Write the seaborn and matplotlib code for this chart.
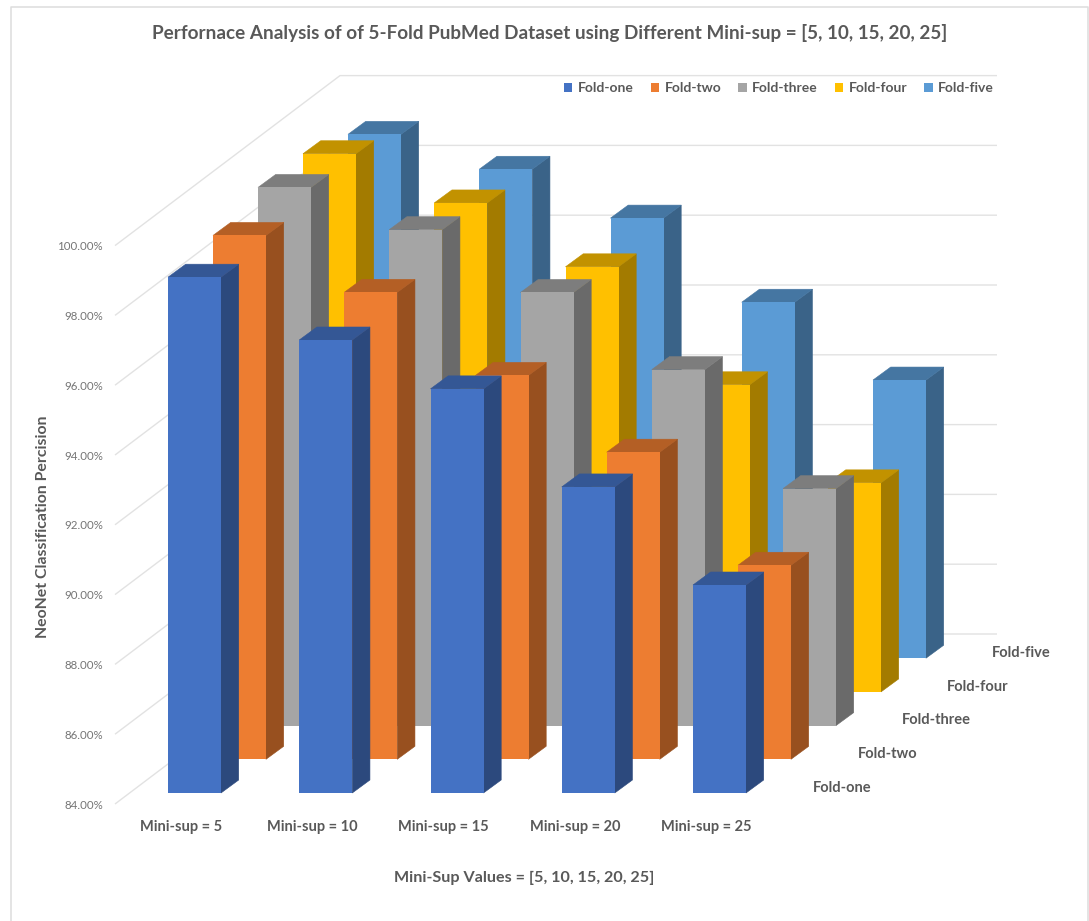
import matplotlib
matplotlib.use("Agg")
import matplotlib.pyplot as plt
import numpy as np
import pandas as pd
import seaborn as sns
from matplotlib.colors import to_rgb
from matplotlib.lines import Line2D
from matplotlib.patches import Patch, Polygon

# Classification precision (%) per fold at each minimum-support level
mini_sup_labels = ["Mini-sup = 5", "Mini-sup = 10", "Mini-sup = 15", "Mini-sup = 20", "Mini-sup = 25"]
fold_names = ["Fold-one", "Fold-two", "Fold-three", "Fold-four", "Fold-five"]
fold_one = [98.78, 96.98, 95.58, 92.77, 89.96]
fold_two = [99.01, 97.38, 95.00, 92.80, 89.56]
fold_three = [99.42, 98.21, 96.41, 94.20, 90.79]
fold_four = [99.42, 98.01, 96.18, 92.80, 89.99]
fold_five = [99.01, 98.01, 96.61, 94.20, 91.97]
fold_values = [fold_one, fold_two, fold_three, fold_four, fold_five]
fold_colors = ["#4472C4", "#ED7D31", "#A5A5A5", "#FFC000", "#5B9BD5"]
y_ticks = [84, 86, 88, 90, 92, 94, 96, 98, 100]

BASE = 84
W, H = 1089, 921
TEXT = "#595959"
WALL = "#e2e2e2"

# Plot box in pixels and the scale of each axis
LEFT, RIGHT, BOTTOM, TOP = 115, 997, 804, 76
PX_X = 131.25          # pixels per category
PX_Y = 34.9            # pixels per percentage point
FIRST_BAR_PX = 194.5   # centre of the frontmost first bar

# Oblique projection: the depth axis runs up and to the right
wall_dx, wall_dy = 225 / PX_X, 170 / PX_Y
fold_dx, fold_dy = 45 / PX_X, 33.7 / PX_Y
bar_dx, bar_dy = 17.7 / PX_X, 13 / PX_Y
floor_lift = 11 / PX_Y
bar_width = 53 / PX_X


def shade(color, factor):
    return tuple(c * factor for c in to_rgb(color))


sns.set_theme(style="white")
plt.rcParams["font.family"] = ["Lato", "DejaVu Sans"]

fig = plt.figure(figsize=(W / 100, H / 100), dpi=100, facecolor="white")
ax = fig.add_axes([LEFT / W, 1 - BOTTOM / H, (RIGHT - LEFT) / W, (BOTTOM - TOP) / H])
ax.patch.set_alpha(0)

# Back-most fold first so nearer bars overlap it
for f in reversed(range(len(fold_names))):
    frame = pd.DataFrame({
        "pos": np.arange(len(mini_sup_labels)) + f * fold_dx,
        "height": np.array(fold_values[f]) - BASE,
    })
    existing = len(ax.patches)
    sns.barplot(data=frame, x="pos", y="height", native_scale=True, orient="x",
                width=bar_width, color=fold_colors[f], saturation=1,
                errorbar=None, linewidth=0, ax=ax, legend=False)
    z = 5 + (len(fold_names) - f)
    bottom = BASE + floor_lift + f * fold_dy
    side_color = shade(fold_colors[f], 0.64)
    top_color = shade(fold_colors[f], 0.76)
    for bar in list(ax.patches[existing:]):
        bar.set_y(bottom)
        bar.set_zorder(z + 0.5)
        x0, x1 = bar.get_x(), bar.get_x() + bar.get_width()
        y1 = bottom + bar.get_height()
        ax.add_patch(Polygon(
            [(x1, bottom), (x1 + bar_dx, bottom + bar_dy), (x1 + bar_dx, y1 + bar_dy), (x1, y1)],
            closed=True, facecolor=side_color, edgecolor=side_color, linewidth=0.4, zorder=z))
        ax.add_patch(Polygon(
            [(x0, y1), (x0 + bar_dx, y1 + bar_dy), (x1 + bar_dx, y1 + bar_dy), (x1, y1)],
            closed=True, facecolor=top_color, edgecolor=top_color, linewidth=0.4, zorder=z))

x_min = (LEFT - FIRST_BAR_PX) / PX_X
x_max = (RIGHT - FIRST_BAR_PX) / PX_X
ax.set_xlim(x_min, x_max)
ax.set_ylim(BASE, BASE + (BOTTOM - TOP) / PX_Y)

# Side wall and back wall gridlines
for v in y_ticks:
    ax.plot([x_min, x_min + wall_dx, x_max], [v, v + wall_dy, v + wall_dy],
            color=WALL, linewidth=1.0, zorder=1, solid_capstyle="butt", clip_on=False)

sns.despine(ax=ax, left=True, bottom=True)
ax.set_yticks(y_ticks)
ax.set_yticklabels([f"{v:.2f}%" for v in y_ticks], fontsize=8.3, color="#757575")
ax.set_xticks(np.arange(len(mini_sup_labels)) - 13.5 / PX_X)
ax.set_xticklabels(mini_sup_labels, fontsize=10.5, fontweight="bold", color=TEXT)
ax.tick_params(axis="y", length=0, pad=8.6)
ax.tick_params(axis="x", length=0, pad=11.5)
ax.grid(False)

ax.set_xlabel("Mini-Sup Values = [5, 10, 15, 20, 25]", fontsize=11.6, fontweight="bold", color=TEXT)
ax.xaxis.set_label_coords((524 - LEFT) / (RIGHT - LEFT), (BOTTOM - 878) / (BOTTOM - TOP), ax.transAxes)
ax.xaxis.label.set_verticalalignment("center")
ax.set_ylabel("NeoNet Classification Percision", fontsize=11.4, fontweight="bold", color=TEXT)
ax.yaxis.set_label_coords((43 - LEFT) / (RIGHT - LEFT), (BOTTOM - 527) / (BOTTOM - TOP), ax.transAxes)
ax.yaxis.label.set_verticalalignment("center")
ax.set_title("Perfornace Analysis of of 5-Fold PubMed Dataset using Different Mini-sup = [5, 10, 15, 20, 25]",
             fontsize=13.6, fontweight="bold", color=TEXT, va="center", ha="center", pad=0,
             x=(550 - LEFT) / (RIGHT - LEFT), y=(BOTTOM - 33) / (BOTTOM - TOP))

# Depth-axis labels beside the last category
for f, name in enumerate(fold_names):
    ax.text((812.7 + 44.8 * f - FIRST_BAR_PX) / PX_X,
            BASE + (BOTTOM - (788 - 33.8 * f)) / PX_Y,
            name, fontsize=10.5, fontweight="bold", color=TEXT, ha="left", va="center")

handles = [Patch(facecolor=c, linewidth=0) for c in fold_colors]
ax.legend(handles, fold_names, ncol=5, frameon=False, loc="center left",
          bbox_to_anchor=((564 - LEFT) / (RIGHT - LEFT), (BOTTOM - 88.5) / (BOTTOM - TOP)),
          prop={"size": 10, "weight": "bold"}, labelcolor=TEXT,
          handlelength=0.6, handleheight=0.6, handletextpad=0.4,
          columnspacing=1.22, borderpad=0, borderaxespad=0)

# Chart area outline, open along the bottom edge
outline = [(10.5 / W, 0), (10.5 / W, 1 - 7.5 / H), (1088 / W, 1 - 7.5 / H), (1088 / W, 0)]
fig.add_artist(Line2D([p[0] for p in outline], [p[1] for p in outline],
                      color="#dddddd", linewidth=1.1, transform=fig.transFigure))

fig.savefig("out.png", dpi=100)
